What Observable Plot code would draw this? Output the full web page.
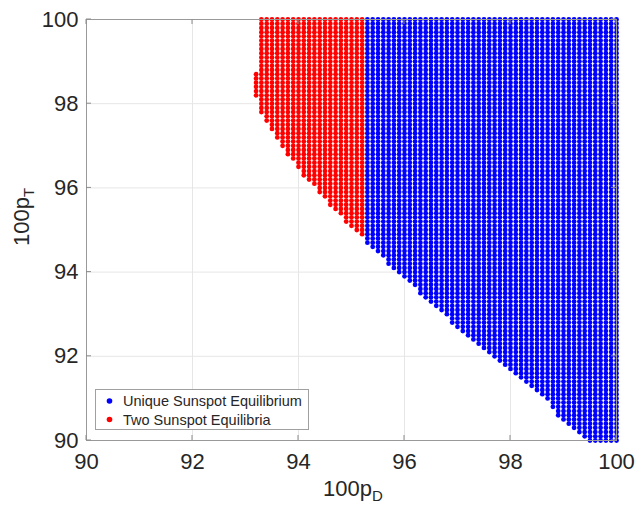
<!DOCTYPE html>
<html><head><meta charset="utf-8">
<script src="https://cdn.jsdelivr.net/npm/d3@7"></script>
<script src="https://cdn.jsdelivr.net/npm/@observablehq/plot@0.6"></script>
<style>body{margin:0;background:#fff}</style>
</head><body><div id="chart"></div>
<script>
// ---- data ----
const tickValues = [90, 92, 94, 96, 98, 100];
const seriesNames = ["Unique Sunspot Equilibrium", "Two Sunspot Equilibria"];
const seriesColors = ["#0000ff", "#ff0000"];

// red region: columns of 100p_D, lowest and highest 100p_T in each column
const redX    = [93.2, 93.3, 93.4, 93.5, 93.6, 93.7, 93.8, 93.9, 94.0, 94.1, 94.2, 94.3, 94.4, 94.5, 94.6, 94.7, 94.8, 94.9, 95.0, 95.1, 95.2];
const redYMin = [98.2, 97.8, 97.6, 97.4, 97.2, 97.0, 96.8, 96.7, 96.5, 96.3, 96.2, 96.1, 95.9, 95.8, 95.6, 95.5, 95.4, 95.2, 95.1, 95.0, 94.9];
const redYMax = [98.7, 100, 100, 100, 100, 100, 100, 100, 100, 100, 100, 100, 100, 100, 100, 100, 100, 100, 100, 100, 100];

// blue region
const blueX    = [95.3, 95.4, 95.5, 95.6, 95.7, 95.8, 95.9, 96.0, 96.1, 96.2, 96.3, 96.4, 96.5, 96.6, 96.7, 96.8, 96.9, 97.0, 97.1, 97.2, 97.3, 97.4, 97.5, 97.6, 97.7, 97.8, 97.9, 98.0, 98.1, 98.2, 98.3, 98.4, 98.5, 98.6, 98.7, 98.8, 98.9, 99.0, 99.1, 99.2, 99.3, 99.4, 99.5, 99.6, 99.7, 99.8, 99.9, 100.0];
const blueYMin = [94.7, 94.6, 94.5, 94.4, 94.2, 94.1, 94.0, 93.9, 93.8, 93.7, 93.5, 93.4, 93.3, 93.2, 93.1, 93.0, 92.8, 92.7, 92.6, 92.5, 92.4, 92.3, 92.2, 92.1, 92.0, 91.9, 91.8, 91.7, 91.6, 91.5, 91.4, 91.3, 91.2, 91.1, 91.0, 90.8, 90.6, 90.5, 90.4, 90.3, 90.2, 90.1, 90.0, 90.0, 90.0, 90.0, 90.0, 90.0];
const blueYMax = blueX.map(() => 100);

// expand each column into its grid points (grid step 0.1)
function expand(xs, mins, maxs, series) {
  const out = [];
  xs.forEach((x, i) => {
    const n = Math.round((maxs[i] - mins[i]) * 10);
    for (let k = 0; k <= n; k++) out.push({x, y: +(mins[i] + k / 10).toFixed(1), series});
  });
  return out;
}
const blueData = expand(blueX, blueYMin, blueYMax, seriesNames[0]);
const redData  = expand(redX, redYMin, redYMax, seriesNames[1]);

const W = 635, H = 506;
const FONT = "'Liberation Sans', Arial, Helvetica, sans-serif";
const plot = Plot.plot({
  width: W, height: H,
  marginLeft: 86, marginRight: 19, marginTop: 19, marginBottom: 66,
  style: {fontFamily: FONT, fontSize: "22px", color: "#262626", background: "#fff"},
  x: {domain: [90, 100]},
  y: {domain: [90, 100]},
  marks: [
    Plot.gridX(tickValues, {stroke: "#e6e6e6", strokeOpacity: 1}),
    Plot.gridY(tickValues, {stroke: "#e6e6e6", strokeOpacity: 1}),
    Plot.dot(blueData, {x: "x", y: "y", r: 2.4, fill: seriesColors[0], stroke: "none"}),
    Plot.dot(redData, {x: "x", y: "y", r: 2.4, fill: seriesColors[1], stroke: "none"}),
    Plot.frame({stroke: "#999", strokeWidth: 1}),
    Plot.axisX(tickValues, {anchor: "bottom", tickSize: 0, tickPadding: 13, label: null, fontSize: 22, fill: "#262626", tickFormat: d => String(d)}),
    Plot.axisY(tickValues, {anchor: "left", tickSize: 0, tickPadding: 8, label: null, fontSize: 22, fill: "#262626", tickFormat: d => String(d)})
  ]
});

const svg = d3.select(plot);
const sx = plot.scale("x"), sy = plot.scale("y");
const x0 = sx.apply(90), x1 = sx.apply(100), y0 = sy.apply(90), y1 = sy.apply(100);
// inward ticks on all four sides
const tg = svg.append("g").attr("stroke", "#8c8c8c").attr("stroke-width", 1);
tickValues.forEach(v => {
  const px = sx.apply(v), py = sy.apply(v);
  tg.append("line").attr("x1", px).attr("x2", px).attr("y1", y0).attr("y2", y0 - 5);
  tg.append("line").attr("x1", px).attr("x2", px).attr("y1", y1).attr("y2", y1 + 5);
  tg.append("line").attr("y1", py).attr("y2", py).attr("x1", x0).attr("x2", x0 + 5);
  tg.append("line").attr("y1", py).attr("y2", py).attr("x1", x1).attr("x2", x1 - 5);
});

// axis labels with subscripts
const xl = svg.append("text").attr("x", 353).attr("y", 496).attr("text-anchor", "middle")
  .attr("font-family", FONT).attr("font-size", 22).attr("fill", "#262626");
xl.append("tspan").text("100p");
xl.append("tspan").attr("font-size", 15).attr("dy", 5).text("D");

const yl = svg.append("text").attr("transform", "translate(29,217) rotate(-90)").attr("text-anchor", "middle")
  .attr("font-family", FONT).attr("font-size", 22).attr("fill", "#262626");
yl.append("tspan").text("100p");
yl.append("tspan").attr("font-size", 15).attr("dy", 5).text("T");

// legend
const lg = svg.append("g").attr("text-anchor", "start");
lg.append("rect").attr("x", 95.5).attr("y", 389.5).attr("width", 213).attr("height", 40)
  .attr("fill", "#fff").attr("stroke", "#a0a0a0").attr("stroke-width", 1);
seriesNames.forEach((name, i) => {
  const cy = 401 + i * 18.5;
  lg.append("circle").attr("cx", 109.5).attr("cy", cy).attr("r", 2.8).attr("fill", seriesColors[i]);
  lg.append("text").attr("x", 123).attr("y", cy + 5).attr("text-anchor", "start")
    .attr("font-family", FONT).attr("font-size", 14.5).attr("fill", "#262626").text(name);
});

document.getElementById("chart").appendChild(plot);
</script>
</body></html>
